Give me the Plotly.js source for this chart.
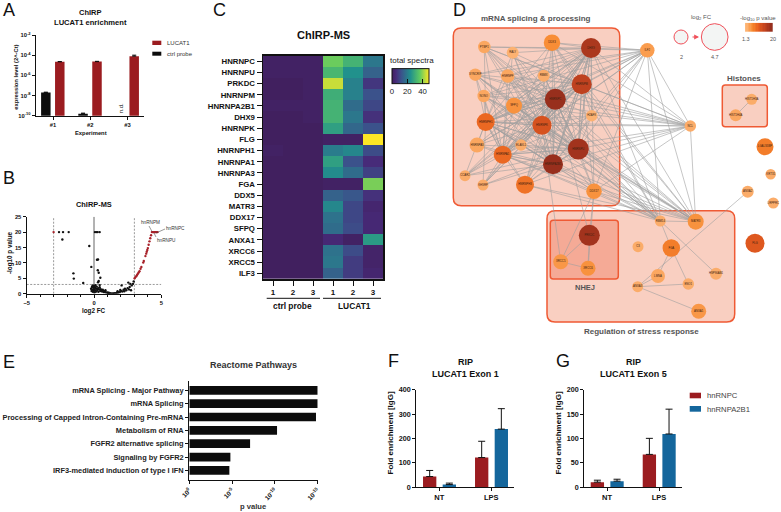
<!DOCTYPE html>
<html>
<head>
<meta charset="utf-8">
<script src="https://cdn.plot.ly/plotly-3.0.1.min.js"></script>
<style>html,body{margin:0;padding:0;background:#fff}</style>
</head>
<body>
<div id="chart" style="width:781px;height:512px"></div>
<script>
// panel A
const aGroups = ['#1', '#2', '#3'];
const aLucat = [2.2e-5, 2.3e-5, 8e-5];
const aCtrl = [2e-8, 1.6e-10, null];
const aLucatErr = [1.5e-6, 1.5e-6, 2e-5];
const aCtrlErr = [1.5e-9, 2e-11, 0];

// panel B
const bBlackX = [-2.6, -2.3, -1.88, -2.35, -1.53, -1.5, -0.8, -0.35, -0.2, 0.07, 0.17, 0.27, 0.42, 0.22, 0.3, 0.28, 0.35, 0.47, 0.35, 0.3, 0.42,
  -0.22, -0.18, -0.15, -0.12, -0.1, -0.08, -0.05, -0.02, 0, 0.02, 0.05, 0.08, 0.1, 0.12, 0.15, 0.18, 0.2, 0.25, 0.3, 0.33, 0.38, 0.42, 0.46, 0.5, 0.55, 0.6, 0.65, 0.7, 0.75, 0.8, 0.85, 0.9, 1.0, 1.05, 1.1, 1.2, 1.3, 1.4, 1.5, 1.6, 1.7, 1.75, 1.8, 1.9, 1.95, 2.0, 2.05, 2.1, 2.2, 2.25, 2.3, 2.4, 2.5, 2.55, 2.6, 2.65, 2.7, 2.75, 2.8, 2.9, 2.95];
const bBlackY = [20, 20, 20, 17.6, 6.6, 4.9, 3.5, 15.5, 8.7, 20, 20, 20, 20, 11, 11.1, 7.6, 6.8, 5.2, 4.1, 3.7, 2.8,
  1.6, 0.9, 2.2, 1.3, 2.7, 0.6, 1.9, 1.1, 2.5, 1.5, 0.5, 2.1, 1, 2.8, 1.6, 0.7, 2.3, 1.2, 1.8, 0.6, 1.4, 2.1, 0.9, 1.5, 1.1, 0.7, 1.3, 0.9, 0.5, 0.8, 1.1, 0.4, 0.4, 0.2, 0.3, 0.15, 0.1, 0.1, 0.15, 0.2, 0.3, 0.8, 0.4, 0.5, 1.2, 0.9, 2.7, 0.7, 1.3, 0.8, 1.6, 1.1, 1.8, 3.6, 1.4, 2.2, 3.2, 1.1, 2.7, 3.2, 4];
const bRedX = [-3, 3.02, 3.08, 3.14, 3.2, 3.26, 3.32, 3.38, 3.46, 3.52, 3.66, 3.7, 3.82, 3.88, 3.92, 3.96, 4, 4.06, 4.12, 4.18, 4.24, 4.3, 4.36, 4.42, 4.48, 4.54, 4.6, 4.66, 4.72];
const bRedY = [20, 5, 5.4, 5.7, 6.1, 6.5, 6.9, 7.3, 8.1, 8.7, 10.1, 10.6, 12.2, 13, 13.6, 14.2, 14.8, 15.9, 17, 18, 19, 20, 20, 20, 20, 20, 20, 20, 20];
const bCutX = [3, -3];
const bCutY = [3];

// panel C
const cProteins = ['HNRNPC', 'HNRNPU', 'PRKDC', 'HNRNPM', 'HNRNPA2B1', 'DHX9', 'HNRNPK', 'FLG', 'HNRNPH1', 'HNRNPA1', 'HNRNPA3', 'FGA', 'DDX5', 'MATR3', 'DDX17', 'SFPQ', 'ANXA1', 'XRCC6', 'XRCC5', 'ILF3'];
const cLabels = ['1', '2', '3', '1', '2', '3'];
const cSpectra = [
  [1, 1, 1, 37, 31, 19],
  [1, 1, 1, 32, 24, 15],
  [0, 0, 1, 44, 21, 7],
  [0, 0, 1, 30, 21, 12],
  [1, 1, 1, 31, 17, 10],
  [0, 0, 1, 31, 19, 6],
  [0, 0, 0, 27, 16, 12],
  [0, 0, 0, 1, 1, 48],
  [1, 0, 0, 20, 22, 11],
  [0, 0, 0, 27, 12, 5],
  [0, 0, 0, 23, 17, 9],
  [0, 0, 0, 1, 1, 38],
  [0, 0, 0, 15, 13, 6],
  [0, 0, 0, 22, 10, 3],
  [0, 0, 0, 18, 10, 4],
  [0, 0, 0, 17, 11, 4],
  [0, 0, 0, 4, 1, 26],
  [0, 0, 0, 18, 11, 2],
  [0, 0, 0, 19, 8, 2],
  [0, 0, 0, 15, 8, 3]
];

// panel D
const nodeNames = ['PTBP1', 'RALY', 'DDX3', 'DHX9', 'ILF2', 'SYNCRIP', 'HNRNPF', 'RBMX', 'HNRNPM', 'NONO', 'SFPQ', 'HNRNPC', 'H2AFX', 'HNRNPH1', 'HNRNPK', 'NCL', 'HNRNPA3', 'HNRNPA1', 'ELAVL1', 'HNRNPU', 'HNRNPA2B1', 'HIST1H3A', 'HIST1H4A', 'LGALS3BP', 'CCAR2', 'KHSRP', 'HNRNPH3', 'DDX17', 'KRT31', 'ANXA2', 'LRPPRC', 'FLG', 'RBM14', 'MATR3', 'PRKDC', 'XRCC5', 'XRCC6', 'C3', 'FGA', 'LMNA', 'ENO1', 'HSP90AB1', 'ANXA3', 'ANXA1'];
const nodeX = [484.3, 512.7, 552, 591, 647.3, 475.3, 507.7, 543.7, 581.7, 483.7, 514, 555.3, 591.7, 485.7, 542, 690.3, 477, 502.7, 521, 578.3, 553, 751.7, 735.7, 765, 465, 483, 525, 594, 770.7, 747.7, 773.3, 755, 660.3, 695.7, 589.3, 560.7, 588, 638, 671.3, 658, 688.3, 716, 637.7, 698.7];
const nodeY = [47, 52.7, 42.7, 48, 50.3, 74.7, 76, 75.7, 84.3, 96, 105.7, 99.3, 115.7, 122, 125.3, 126, 145, 154.7, 145, 149, 164.3, 99.3, 115.3, 146.7, 175.7, 185, 184.7, 191.3, 174.3, 191.7, 203, 243.3, 221, 221.7, 235.3, 261.7, 268.3, 246.7, 248, 276, 284, 273.7, 286.7, 311.3];
const nodeFC = [2.5, 2.4, 3.3, 4, 2.9, 2.5, 2.7, 2.4, 4, 2.5, 3.2, 4.2, 2.3, 3.6, 3.8, 2.3, 3, 3.6, 2.3, 4.2, 4, 2.2, 2.4, 3.4, 2.2, 2.2, 3.6, 3.1, 2.1, 2.4, 2.2, 3.8, 2.2, 3.2, 4.2, 3, 3, 2.2, 3.5, 2.8, 2.3, 2.4, 2.2, 3];
const nodeP = [3, 2, 5.5, 17, 4, 3, 3, 2.5, 15, 3, 5, 19, 2, 9, 12, 2.5, 3, 9, 2.5, 18, 19, 2.5, 3, 7, 2.5, 2.5, 8, 5, 2.5, 2.5, 2.5, 11, 2.5, 5, 18, 4.5, 5, 2.5, 7, 3, 2.5, 2.5, 2.5, 4.5];
const spliceNodes = ['PTBP1', 'RALY', 'DDX3', 'DHX9', 'SYNCRIP', 'HNRNPF', 'RBMX', 'HNRNPM', 'NONO', 'SFPQ', 'HNRNPC', 'H2AFX', 'HNRNPH1', 'HNRNPK', 'HNRNPA3', 'HNRNPA1', 'ELAVL1', 'HNRNPU', 'HNRNPA2B1', 'CCAR2', 'KHSRP', 'HNRNPH3', 'DDX17'];
const spliceCore = ['DHX9', 'HNRNPM', 'HNRNPC', 'HNRNPK', 'HNRNPU', 'HNRNPA2B1', 'HNRNPH1', 'HNRNPA1'];
const outerHubs = ['ILF2', 'NCL', 'MATR3', 'RBM14'];
const hubTargets = ['PTBP1', 'DDX3', 'DHX9', 'SYNCRIP', 'HNRNPF', 'HNRNPM', 'SFPQ', 'HNRNPC', 'HNRNPH1', 'HNRNPK', 'HNRNPA1', 'HNRNPU', 'HNRNPA2B1', 'NONO', 'HNRNPH3', 'DDX17'];
const extraFrom = ['ILF2', 'ILF2', 'ILF2', 'NCL', 'DDX17', 'PRKDC', 'PRKDC', 'XRCC5', 'XRCC5', 'XRCC6', 'RBM14', 'RBM14', 'RBM14', 'FGA', 'FGA', 'ANXA3', 'ANXA3', 'ANXA3', 'ANXA3', 'HIST1H3A', 'HNRNPK', 'HNRNPC'];
const extraTo = ['NCL', 'MATR3', 'RBM14', 'MATR3', 'PRKDC', 'XRCC5', 'XRCC6', 'XRCC6', 'DDX17', 'DDX17', 'MATR3', 'HSP90AB1', 'FGA', 'ENO1', 'LMNA', 'LMNA', 'ENO1', 'ANXA1', 'ANXA2', 'HIST1H4A', 'XRCC5', 'PRKDC'];
const gradSteps = [1.3, 2, 3, 4, 5, 6, 7, 8, 9, 10, 11, 12, 13, 14, 15, 16, 17, 18, 19, 20];
const legendFC = [2, 4.7];

// panel E
const ePathways = ['mRNA Splicing - Major Pathway', 'mRNA Splicing', 'Processing of Capped Intron-Containing Pre-mRNA', 'Metabolism of RNA', 'FGFR2 alternative splicing', 'Signaling by FGFR2', 'IRF3-mediated induction of type I IFN'];
const eMinusLogP = [15, 15, 14.8, 10.25, 7.1, 4.8, 4.68];

// panels F, G
const ripGroups = ['NT', 'LPS'];
const fPRNPC = [43, 121];
const fPRNPCErr = [25, 67];
const fA2B1 = [10, 238];
const fA2B1Err = [6, 84];
const gPRNPC = [10, 67];
const gPRNPCErr = [4, 33];
const gA2B1 = [12, 109];
const gA2B1Err = [4, 51];

const W = 781, H = 512;
const FONT = 'Liberation Sans, Arial, sans-serif';
const RED = '#9b1c20', BLUE = '#14669c', INK = '#111111', GREY = '#555555';
const HEAT = [[0, '#fdb97d'], [0.25, '#f7882e'], [0.45, '#e8601f'], [0.7, '#c4441f'], [1, '#8f2a1c']];
const VIRIDIS = [[0, '#41205f'], [0.1, '#472a78'], [0.25, '#3b528b'], [0.5, '#21918c'], [0.75, '#5ec962'], [1, '#fde725']];

const px = x => x / W;
const py = y => 1 - y / H;

var annotations = [];
var shapes = [];
var layout = {
  width: W, height: H,
  margin: {l: 0, r: 0, t: 0, b: 0, pad: 0},
  paper_bgcolor: '#fff', plot_bgcolor: 'rgba(0,0,0,0)',
  showlegend: false, font: {family: FONT, color: INK},
  barmode: 'overlay',
  annotations: annotations, shapes: shapes
};

function note(text, x, y, size, opts) {
  opts = opts || {};
  annotations.push({
    text: opts.bold ? '<b>' + text + '</b>' : String(text),
    xref: 'paper', yref: 'paper', x: px(x), y: py(y),
    xanchor: opts.anchor || 'center', yanchor: 'middle',
    showarrow: false, textangle: opts.angle || 0, borderpad: 0,
    font: {family: FONT, size: size, color: opts.color || INK}
  });
}

function box(l, t, r, b, fill) {
  shapes.push({type: 'rect', xref: 'paper', yref: 'paper', x0: px(l), x1: px(r), y0: py(t), y1: py(b), fillcolor: fill, line: {width: 0}});
}

function rule(x0, y0, x1, y1, color, width) {
  shapes.push({type: 'line', xref: 'paper', yref: 'paper', x0: px(x0), x1: px(x1), y0: py(y0), y1: py(y1), line: {color: color, width: width}});
}

function roundBox(l, t, r, b, rad, fill) {
  const X = v => px(v).toFixed(5), Y = v => py(v).toFixed(5);
  shapes.push({
    type: 'path', xref: 'paper', yref: 'paper', layer: 'below',
    path: `M${X(l + rad)},${Y(t)} L${X(r - rad)},${Y(t)} Q${X(r)},${Y(t)} ${X(r)},${Y(t + rad)} L${X(r)},${Y(b - rad)} Q${X(r)},${Y(b)} ${X(r - rad)},${Y(b)} L${X(l + rad)},${Y(b)} Q${X(l)},${Y(b)} ${X(l)},${Y(b - rad)} L${X(l)},${Y(t + rad)} Q${X(l)},${Y(t)} ${X(l + rad)},${Y(t)} Z`,
    fillcolor: fill, line: {color: '#ef5a34', width: 1.5}
  });
}

// axis pair placed by its pixel box
function axes(n, l, r, t, b, xo, yo) {
  const base = {showgrid: false, zeroline: false, showline: true, linecolor: INK, linewidth: 1.2, ticks: 'outside', ticklen: 3, tickwidth: 1, tickcolor: INK, fixedrange: true};
  layout['xaxis' + n] = Object.assign({}, base, {domain: [px(l), px(r)], anchor: 'y' + n}, xo);
  layout['yaxis' + n] = Object.assign({}, base, {domain: [py(b), py(t)], anchor: 'x' + n}, yo);
}

function bars(n, xs, ys, errs, color, offset, width, cap) {
  return {
    type: 'bar', x: xs, y: ys, xaxis: 'x' + n, yaxis: 'y' + n, width: width, offset: offset,
    marker: {color: color, line: {width: 0}},
    error_y: {type: 'data', symmetric: false, array: errs, arrayminus: ys.map(() => 0), color: INK, thickness: 1, width: cap},
    hoverinfo: 'skip', cliponaxis: false
  };
}

var traces = [];

// ---- A
axes(1, 36, 144, 35, 115.7,
  {range: [-0.457, 2.446], type: 'category', tickfont: {size: 5.8, weight: 700}},
  {type: 'log', range: [-10, -2], tickvals: [1e-2, 1e-4, 1e-6, 1e-8, 1e-10], ticktext: ['10<sup>-2</sup>', '10<sup>-4</sup>', '10<sup>-6</sup>', '10<sup>-8</sup>', '10<sup>-10</sup>'], tickfont: {size: 5.8, weight: 700}});
traces.push(bars(1, aGroups, aCtrl, aCtrlErr, '#0c0c0c', -0.32, 0.255, 2));
traces.push(bars(1, aGroups, aLucat, aLucatErr, RED, 0.055, 0.255, 2));
note('ChIRP', 90, 12.3, 7.5, {bold: true});
note('LUCAT1 enrichment', 90, 22, 7.6, {bold: true});
note('expression level (2^-Ct)', 15.7, 77, 5.8, {bold: true, angle: -90});
note('Experiment', 90.7, 133, 5.8, {bold: true});
note('n.d.', 121.3, 108, 6, {angle: -90});
box(152.3, 40.7, 161.3, 45, RED);
note('LUCAT1', 165.7, 43, 6, {anchor: 'left', color: '#333'});
box(152.3, 51.7, 161.3, 55.7, '#0c0c0c');
note('ctrl probe', 165.7, 54, 6, {anchor: 'left', color: '#333'});

// ---- B
axes(2, 26.7, 161.3, 216.7, 293.7,
  {range: [-5, 5], tickvals: [-5, 0, 5], tickfont: {size: 5.8, weight: 700}, minor: {dtick: 1, ticks: 'outside', ticklen: 2, tickcolor: INK}},
  {range: [0, 25], tickvals: [0, 5, 10, 15, 20, 25], tickfont: {size: 5.8, weight: 700}});
bCutX.forEach(v => traces.push({type: 'scatter', mode: 'lines', x: [v, v], y: [0, 25], xaxis: 'x2', yaxis: 'y2', line: {color: '#555', width: 0.6, dash: '2px,1.5px'}, hoverinfo: 'skip'}));
bCutY.forEach(v => traces.push({type: 'scatter', mode: 'lines', x: [-5, 5], y: [v, v], xaxis: 'x2', yaxis: 'y2', line: {color: '#555', width: 0.6, dash: '2px,1.5px'}, hoverinfo: 'skip'}));
traces.push({type: 'scatter', mode: 'lines', x: [0, 0], y: [0, 25], xaxis: 'x2', yaxis: 'y2', line: {color: '#666', width: 1}, hoverinfo: 'skip'});
traces.push({type: 'scatter', mode: 'markers', x: bBlackX, y: bBlackY, xaxis: 'x2', yaxis: 'y2', marker: {color: '#111', size: 2.4, opacity: 1}, hoverinfo: 'skip'});
traces.push({type: 'scatter', mode: 'markers', x: bRedX, y: bRedY, xaxis: 'x2', yaxis: 'y2', marker: {color: '#a8222a', size: 2.4, opacity: 1}, hoverinfo: 'skip'});
note('ChIRP-MS', 94, 204, 7.4, {bold: true});
note('-log10 p value', 10, 253, 6.3, {bold: true, angle: -90});
note('log2 FC', 94, 311, 6.3, {bold: true});
note('hnRNPM', 150, 222, 4.7, {color: '#333'});
note('hnRNPC', 175.7, 228, 4.7, {color: '#333'});
note('hnRNPU', 166, 240, 4.7, {color: '#333'});
rule(149, 226, 152, 231.5, '#333', 0.5);
rule(156, 233, 165, 229, '#333', 0.5);
rule(154, 233, 156, 237, '#333', 0.5);

// ---- C
axes(3, 263, 383, 55.7, 279,
  {range: [-0.5, 5.5], tickvals: [0, 1, 2, 3, 4, 5], ticktext: cLabels, tickfont: {size: 8, weight: 700}, ticklen: 5, linewidth: 1.5, mirror: true},
  {range: [19.5, -0.5], type: 'linear', tickvals: cProteins.map((p, i) => i), ticktext: cProteins, tickfont: {size: 7.8, weight: 700}, ticklen: 5, linewidth: 1.5, mirror: true});
traces.push({
  type: 'heatmap', z: cSpectra, xaxis: 'x3', yaxis: 'y3', zmin: 0, zmax: 48, colorscale: VIRIDIS, hoverinfo: 'skip', xgap: 0, ygap: 0,
  colorbar: {orientation: 'h', x: px(410.3), xanchor: 'center', y: py(101.5), yanchor: 'bottom', len: 36.7, lenmode: 'pixels', thickness: 15, thicknessmode: 'pixels', xpad: 0, ypad: 0, outlinewidth: 1, outlinecolor: INK, ticks: 'inside', ticklen: 5, tickwidth: 1, tickcolor: INK, tickvals: [0, 20, 40], tickfont: {size: 7.8, color: '#222'}}
});
note('ChIRP-MS', 323, 35, 11, {bold: true});
note('total spectra', 411.7, 60, 8, {color: '#222'});
rule(266.7, 298.3, 320, 298.3, INK, 1);
rule(323, 298.3, 381, 298.3, INK, 1);
note('ctrl probe', 292.7, 306, 8.4, {bold: true});
note('LUCAT1', 354, 306, 8.4, {bold: true});

// ---- D
const nodeAt = name => nodeNames.indexOf(name);
var edgeX = [], edgeY = [];
function link(a, b) {
  const i = nodeAt(a), j = nodeAt(b);
  edgeX.push(nodeX[i], nodeX[j], null);
  edgeY.push(nodeY[i], nodeY[j], null);
}
spliceCore.forEach(c => spliceNodes.forEach(m => { if (m !== c) link(c, m); }));
outerHubs.forEach(h => hubTargets.forEach(m => link(h, m)));
extraFrom.forEach((a, i) => link(a, extraTo[i]));

roundBox(453.3, 28, 619.7, 205.7, 8, '#f9cfc1');
roundBox(547, 210.7, 734.7, 322, 8, '#f9cfc1');
roundBox(550.3, 220.3, 618.3, 279, 3, '#f5aa96');
roundBox(722.3, 85, 767.3, 126.7, 3, '#f9cfc1');

axes(4, 445, 781, 0, 340,
  {range: [445, 781], visible: false},
  {range: [340, 0], visible: false});
traces.push({type: 'scatter', mode: 'lines', x: edgeX, y: edgeY, xaxis: 'x4', yaxis: 'y4', line: {color: '#a0a0a0', width: 0.6}, hoverinfo: 'skip'});
traces.push({
  type: 'scatter', mode: 'markers+text', x: nodeX, y: nodeY, text: nodeNames, xaxis: 'x4', yaxis: 'y4', textposition: 'middle center',
  textfont: {size: 2.8, color: '#3a2010'},
  marker: {size: nodeFC, sizemode: 'diameter', sizeref: 0.2, opacity: 1, color: nodeP, cmin: 1.3, cmax: 20, colorscale: HEAT, line: {width: 0}},
  hoverinfo: 'skip'
});
traces.push({
  type: 'scatter', mode: 'markers', x: [681, 714.7], y: [37, 37], xaxis: 'x4', yaxis: 'y4',
  marker: {size: legendFC.map(v => 14 + (v - 2) * 4.7), opacity: 1, color: '#f3f5f4', line: {color: '#f0505a', width: 1}}, hoverinfo: 'skip'
});
annotations.push({xref: 'paper', yref: 'paper', axref: 'pixel', ayref: 'pixel', x: px(699), y: py(37), ax: -8, ay: 0, text: '', showarrow: true, arrowhead: 2, arrowsize: 0.8, arrowwidth: 1.2, arrowcolor: '#f0505a'});
axes(5, 745, 772.7, 22.7, 32, {range: [-0.5, 19.5], visible: false}, {range: [-0.5, 0.5], visible: false});
traces.push({type: 'heatmap', z: [gradSteps], xaxis: 'x5', yaxis: 'y5', zmin: 1.3, zmax: 20, colorscale: HEAT, showscale: false, hoverinfo: 'skip'});
note('mRNA splicing &amp; processing', 535.7, 18, 8, {bold: true, color: GREY});
note('Histones', 744, 78, 8, {bold: true, color: GREY});
note('NHEJ', 584.7, 287, 7.5, {bold: true, color: GREY});
note('Regulation of stress response', 641.7, 331, 8, {bold: true, color: GREY});
note('log<sub>2</sub> FC', 701, 17, 6, {color: GREY});
note('-log<sub>10</sub> p value', 758, 18, 6, {color: GREY});
note('1.3', 745.7, 38.5, 5.5, {color: GREY});
note('20', 772.7, 38.5, 5.5, {color: GREY});
note(legendFC[0], 681, 57, 5.5, {color: GREY});
note(legendFC[1], 714.7, 57, 5.5, {color: GREY});

// ---- E
axes(6, 189.3, 317.7, 381.3, 480,
  {range: [0, 15], tickvals: [0, 5, 10, 15], ticktext: ['10<sup>0</sup>', '10<sup>-5</sup>', '10<sup>-10</sup>', '10<sup>-15</sup>'], tickangle: -45, tickfont: {size: 6.5, weight: 700}},
  {range: [6.72, -0.675], tickvals: ePathways.map((p, i) => i), ticktext: ePathways, tickfont: {size: 7.4, weight: 700, color: '#222'}, ticklen: 3});
traces.push({type: 'bar', orientation: 'h', x: eMinusLogP, y: ePathways.map((p, i) => i), xaxis: 'x6', yaxis: 'y6', width: 0.65, marker: {color: '#0c0c0c', line: {width: 0}}, hoverinfo: 'skip'});
note('Reactome Pathways', 253, 365, 9, {bold: true, color: '#333'});
note('p value', 253, 506, 7.6, {bold: true, color: '#333'});

// ---- F, G
function ripPanel(n, left, tick0, top, vals, errs, tickv) {
  const step = 52;
  axes(n, left, left + 98, 389.7, 487,
    {type: 'category', range: [(left - tick0) / step, (left + 98 - tick0) / step], tickfont: {size: 7.5, weight: 700}},
    {range: [0, top], tickvals: tickv, tickfont: {size: 7.2, weight: 700}});
  traces.push(bars(n, ripGroups, vals[0], errs[0], RED, -0.313, 0.256, 3.5));
  traces.push(bars(n, ripGroups, vals[1], errs[1], BLUE, 0.065, 0.256, 3.5));
}
ripPanel(7, 416.3, 439.3, 400, [fPRNPC, fA2B1], [fPRNPCErr, fA2B1Err], [0, 100, 200, 300, 400]);
ripPanel(8, 584.3, 607, 200, [gPRNPC, gA2B1], [gPRNPCErr, gA2B1Err], [0, 50, 100, 150, 200]);
note('RIP', 465, 362, 9, {bold: true});
note('LUCAT1 Exon 1', 465, 374, 9, {bold: true});
note('RIP', 633, 362, 9, {bold: true});
note('LUCAT1 Exon 5', 633, 374, 9, {bold: true});
note('Fold enrichment [IgG]', 389.5, 433, 8, {bold: true, angle: -90});
note('Fold enrichment [IgG]', 557.5, 433, 8, {bold: true, angle: -90});
box(689.7, 392.7, 701, 398.3, RED);
note('hnRNPC', 706, 395.7, 7.7, {anchor: 'left', color: '#444'});
box(689.7, 406, 701, 411.7, BLUE);
note('hnRNPA2B1', 706, 409, 7.7, {anchor: 'left', color: '#444'});

// panel letters
[['A', 2, 10], ['B', 2, 178], ['C', 212, 10], ['D', 452, 10], ['E', 2, 362], ['F', 387, 361], ['G', 555, 361]].forEach(l => {
  note(l[0], l[1], l[2], 18, {anchor: 'left', color: '#111'});
});

Plotly.newPlot('chart', traces, layout, {displayModeBar: false, staticPlot: true});
</script>
</body>
</html>
